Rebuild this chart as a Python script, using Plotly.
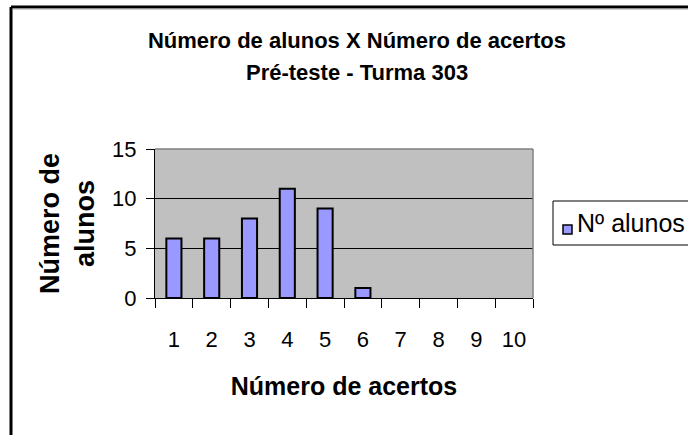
import plotly.graph_objects as go

categories = ["1", "2", "3", "4", "5", "6", "7", "8", "9", "10"]
n_alunos = [6, 6, 8, 11, 9, 1, 0, 0, 0, 0]
series_name = "Nº alunos"
title_line1 = "Número de alunos X Número de acertos"
title_line2 = "Pré-teste - Turma 303"
x_title = "Número de acertos"
y_title = "Número de<br>alunos"

W, H = 688, 435
L, R, T, B = 155, 155, 149, 137
pw, ph = W - L - R, H - T - B

def px_x(p):
    return (p - L) / pw

def px_y(p):
    return (H - B - p) / ph

FONT = "Arial, Liberation Sans, sans-serif"
BAR_FILL = "#9999FF"

fig = go.Figure()
fig.add_trace(go.Bar(
    x=categories, y=n_alunos, name=series_name,
    marker=dict(color=BAR_FILL,
                line=dict(color="black", width=[2 if v > 0 else 0 for v in n_alunos])),
    showlegend=False,
))

shapes = [
    # plot area top/right gray border
    dict(type="line", xref="paper", yref="paper", x0=0, x1=1, y0=1, y1=1,
         line=dict(color="#808080", width=1.5), layer="above"),
    dict(type="line", xref="paper", yref="paper", x0=1, x1=1, y0=0, y1=1,
         line=dict(color="#808080", width=1.5), layer="above"),
    # outer chart frame (left & top, continues off-canvas)
    dict(type="line", xref="paper", yref="paper", x0=px_x(11), x1=px_x(720),
         y0=px_y(7), y1=px_y(7), line=dict(color="black", width=3)),
    dict(type="line", xref="paper", yref="paper", x0=px_x(11), x1=px_x(11),
         y0=px_y(7), y1=px_y(460), line=dict(color="black", width=3)),
    dict(type="line", xref="paper", yref="paper", x0=px_x(12.5), x1=px_x(720),
         y0=px_y(9), y1=px_y(9), line=dict(color="#A0A0A0", width=1)),
    # legend box
    dict(type="rect", xref="paper", yref="paper", x0=px_x(553), x1=px_x(720),
         y0=px_y(245), y1=px_y(201), line=dict(color="black", width=1),
         fillcolor="white"),
    # legend marker
    dict(type="rect", xref="paper", yref="paper", x0=px_x(563), x1=px_x(572),
         y0=px_y(234), y1=px_y(225), line=dict(color="black", width=1.5),
         fillcolor=BAR_FILL),
]

annotations = [
    dict(text=title_line2, xref="paper", yref="paper", x=px_x(357), y=px_y(72),
         xanchor="center", yanchor="middle", showarrow=False,
         font=dict(size=22, family=FONT, weight="bold")),
    dict(text=series_name, xref="paper", yref="paper", x=px_x(575), y=px_y(223),
         xanchor="left", yanchor="middle", showarrow=False,
         font=dict(size=25, family=FONT)),
]

fig.update_layout(
    width=W, height=H,
    margin=dict(l=L, r=R, t=T, b=B, autoexpand=False),
    paper_bgcolor="white",
    plot_bgcolor="#C0C0C0",
    font=dict(family=FONT, color="black", size=22),
    title=dict(text=title_line1, x=px_x(357), xref="paper", xanchor="center",
               y=1 - 40 / H, yanchor="middle", yref="container",
               font=dict(size=22, family=FONT, weight="bold")),
    bargap=0.6,
    shapes=shapes,
    annotations=annotations,
    showlegend=False,
    xaxis=dict(
        type="category", tickson="boundaries", ticks="outside", ticklen=9,
        tickcolor="black", tickwidth=1, showline=True, linecolor="black",
        linewidth=1, showgrid=False, ticklabelstandoff=22,
        tickfont=dict(size=22),
        title=dict(text=x_title, standoff=26,
                   font=dict(size=25, family=FONT, weight="bold")),
    ),
    yaxis=dict(
        range=[0, 15], dtick=5, ticks="outside", ticklen=8, tickcolor="black",
        showline=True, linecolor="black", linewidth=1,
        showgrid=True, gridcolor="black", gridwidth=1, zeroline=False,
        ticklabelstandoff=5, tickfont=dict(size=22),
        title=dict(text=y_title, standoff=9,
                   font=dict(size=27, family=FONT, weight="bold")),
    ),
)

fig.write_html("out.html", config={"displayModeBar": False},
               post_script="document.body.style.margin='0px';")
